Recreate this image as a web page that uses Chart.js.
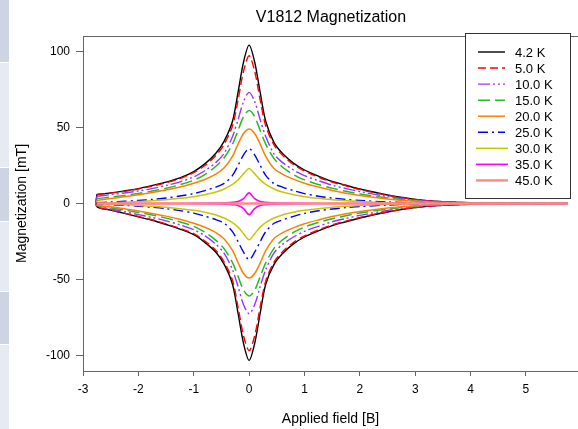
<!DOCTYPE html>
<html>
<head>
<meta charset="utf-8">
<script src="https://cdn.jsdelivr.net/npm/chart.js@4.4.1/dist/chart.umd.min.js"></script>
<style>
  html, body { margin: 0; padding: 0; background: #fff; overflow: hidden; }
  #wrap { position: relative; width: 578px; height: 429px; }
  #chart { position: absolute; left: 0; top: 0; }
  .strip { position: absolute; left: 0; width: 9px; }
</style>
</head>
<body>
<div id="wrap">
  <div class="strip" style="top:0;height:62px;background:#cdd5e3"></div>
  <div class="strip" style="top:63px;height:104px;background:#e6eaf2"></div>
  <div class="strip" style="top:168px;height:53px;background:#cdd5e3"></div>
  <div class="strip" style="top:222px;height:69px;background:#e6eaf2"></div>
  <div class="strip" style="top:292px;height:52px;background:#cdd5e3"></div>
  <div class="strip" style="top:345px;height:84px;background:#e6eaf2"></div>
  <canvas id="chart" width="578" height="429"></canvas>
</div>
<script>
// applied field grid [B], shared by both branches of every loop
const field = [-2.75, -2.5, -2.25, -2, -1.75, -1.5, -1.25, -1, -0.8, -0.6, -0.45, -0.3, -0.2, -0.1, 0,
    0.1, 0.2, 0.3, 0.45, 0.6, 0.8, 1, 1.25, 1.5, 1.75, 2, 2.5, 3, 3.5, 4, 4.5, 5, 5.75];

const temperatures = ['4.2 K', '5.0 K', '10.0 K', '15.0 K', '20.0 K', '25.0 K', '30.0 K', '35.0 K', '45.0 K'];

// magnetization [mT], upper branch
const up42 = [6, 7, 8.3, 9.8, 11.8, 14, 16.8, 21, 26, 33, 41, 54, 73, 93, 104,
    93, 73, 54, 40, 33, 26.5, 22, 18, 14.5, 12, 9.5, 5.6, 2.7, 1.2, 0.5, 0.2, 0.1, 0];
const up50 = [5.8, 6.8, 8, 9.5, 11.4, 13.6, 16.3, 20.3, 25, 31.5, 39, 51, 68, 87, 97,
    87, 68, 51, 38.5, 31.8, 25.6, 21.3, 17.4, 14, 11.6, 9.2, 5.4, 2.6, 1.15, 0.5, 0.2, 0.1, 0];
const up100 = [4.8, 5.8, 6.9, 8.2, 9.8, 11.8, 14.2, 17.5, 21.5, 27, 33, 44, 55, 67, 73,
    67, 55, 44, 32.5, 27, 22, 18.3, 15, 12, 9.8, 7.8, 4.6, 2.2, 1, 0.4, 0.15, 0.05, 0];
const up150 = [3.2, 4.2, 5.3, 6.6, 8.2, 10, 12.3, 15.3, 19, 24.5, 30, 39, 48, 57, 61,
    57, 48, 39, 29.5, 24, 19, 15.5, 12.5, 10, 8, 6.2, 3.6, 1.7, 0.7, 0.3, 0.1, 0, 0];
const up200 = [2, 3.3, 4.4, 5.7, 7.2, 8.8, 10.8, 13.3, 15.8, 19.3, 23.5, 31, 39, 46, 49,
    46, 39, 31, 23, 19.3, 16, 13.3, 10.8, 8.6, 6.8, 5.3, 3, 1.4, 0.6, 0.2, 0.1, 0, 0];
const up250 = [0.5, 1, 1.5, 2, 2.7, 3.6, 4.9, 6.5, 8.5, 10.8, 13.2, 18.5, 25, 32, 36,
    32, 25, 18.5, 13, 10.8, 8.5, 6.5, 4.8, 3.6, 2.7, 2, 1, 0.4, 0.15, 0.05, 0, 0, 0];
const up300 = [0, 0.4, 0.8, 1.3, 1.8, 2.5, 3.4, 4.5, 5.8, 7.5, 9.5, 12.5, 15.5, 19.5, 23,
    19.5, 15.5, 12.5, 9.5, 7.5, 5.8, 4.5, 3.4, 2.5, 1.8, 1.3, 0.5, 0.15, 0, 0, 0, 0, 0];
const up350 = [0, 0, 0, 0, 0, 0, 0, 0.1, 0.2, 0.3, 0.5, 0.8, 1.3, 3.2, 7,
    3.2, 1.3, 0.8, 0.5, 0.3, 0.2, 0.1, 0, 0, 0, 0, 0, 0, 0, 0, 0, 0, 0];
const up450 = [0, 0, 0, 0, 0, 0, 0, 0, 0, 0, 0, 0, 0, 0, 0,
    0, 0, 0, 0, 0, 0, 0, 0, 0, 0, 0, 0, 0, 0, 0, 0, 0, 0];

// magnetization [mT], lower branch
const down42 = [-2, -4.3, -6.5, -8.8, -11, -13.8, -16.8, -20.5, -25.5, -32, -40, -53, -72, -92, -103,
    -92, -72, -53, -40, -33, -26.5, -22, -18, -14.5, -12, -9.5, -5.6, -2.7, -1.2, -0.5, -0.2, -0.1, 0];
const down50 = [-1.9, -4.2, -6.3, -8.5, -10.7, -13.4, -16.3, -19.8, -24.6, -30.8, -38.5, -50.5, -68, -87, -96.7,
    -87, -68, -51, -38.5, -31.8, -25.6, -21.3, -17.4, -14, -11.6, -9.2, -5.4, -2.6, -1.15, -0.5, -0.2, -0.1, 0];
const down100 = [-1.6, -3.6, -5.4, -7.3, -9.2, -11.4, -14, -17.2, -21.2, -26.7, -32.7, -43.5, -54.5, -66.5, -72.4,
    -66.5, -54.5, -43.5, -32.5, -27, -22, -18.3, -15, -12, -9.8, -7.8, -4.6, -2.2, -1, -0.4, -0.15, -0.05, 0];
const down150 = [-1.2, -2.8, -4.3, -5.9, -7.6, -9.6, -12, -15, -18.8, -24.2, -29.8, -38.8, -47.8, -57, -60.7,
    -57, -48, -39, -29.5, -24, -19, -15.5, -12.5, -10, -8, -6.2, -3.6, -1.7, -0.7, -0.3, -0.1, 0, 0];
const down200 = [-0.8, -2.2, -3.5, -4.9, -6.5, -8.3, -10.4, -13, -15.6, -19.1, -23.3, -30.8, -38.8, -46, -49,
    -46, -39, -31, -23, -19.3, -16, -13.3, -10.8, -8.6, -6.8, -5.3, -3, -1.4, -0.6, -0.2, -0.1, 0, 0];
const down250 = [-0.2, -0.7, -1.2, -1.8, -2.5, -3.4, -4.7, -6.3, -8.3, -10.6, -13, -18.5, -25, -32, -37,
    -32, -25, -18.5, -13, -10.8, -8.5, -6.5, -4.8, -3.6, -2.7, -2, -1, -0.4, -0.15, -0.05, 0, 0, 0];
const down300 = [0, -0.4, -0.8, -1.3, -1.8, -2.5, -3.4, -4.5, -5.8, -7.5, -9.5, -12.5, -15.5, -19.8, -23.8,
    -19.8, -15.5, -12.5, -9.5, -7.5, -5.8, -4.5, -3.4, -2.5, -1.8, -1.3, -0.5, -0.15, 0, 0, 0, 0, 0];
const down350 = [0, 0, 0, 0, 0, 0, 0, -0.1, -0.2, -0.3, -0.5, -0.8, -1.3, -3.3, -7.3,
    -3.3, -1.3, -0.8, -0.5, -0.3, -0.2, -0.1, 0, 0, 0, 0, 0, 0, 0, 0, 0, 0, 0];
const down450 = [0, 0, 0, 0, 0, 0, 0, 0, 0, 0, 0, 0, 0, 0, 0,
    0, 0, 0, 0, 0, 0, 0, 0, 0, 0, 0, 0, 0, 0, 0, 0, 0, 0];

const xTicks = [-3, -2, -1, 0, 1, 2, 3, 4, 5];
const yTicks = [-100, -50, 0, 50, 100];

const upper = [up42, up50, up100, up150, up200, up250, up300, up350, up450];
const lower = [down42, down50, down100, down150, down200, down250, down300, down350, down450];

const styles = [
    { color: '#000000', width: 1.4, dash: [] },
    { color: '#ff0000', width: 1.4, dash: [8, 4] },
    { color: '#9933ff', width: 1.4, dash: [12, 3, 2, 3, 2, 3] },
    { color: '#22bb22', width: 1.5, dash: [12, 5] },
    { color: '#ff8000', width: 1.5, dash: [] },
    { color: '#0000ff', width: 1.4, dash: [10, 4, 2, 4] },
    { color: '#c8c800', width: 1.5, dash: [] },
    { color: '#ff00ff', width: 1.6, dash: [] },
    { color: '#ff8888', width: 2.4, dash: [] },
];

const FONT = 'Liberation Sans, Arial, sans-serif';

// one closed path per loop: upper branch left to right, lower branch back, then closed
function loopPoints(up, down) {
    const pts = field.map((b, i) => ({ x: b, y: up[i] }));
    for (let i = field.length - 1; i >= 0; i--) pts.push({ x: field[i], y: down[i] });
    pts.push({ x: field[0], y: up[0] });
    return pts;
}

const datasets = temperatures.map((label, i) => ({
    label,
    data: loopPoints(upper[i], lower[i]),
    showLine: true,
    borderColor: styles[i].color,
    borderWidth: styles[i].width,
    borderDash: styles[i].dash,
    pointRadius: 0,
    tension: 0.3,
    fill: false,
    order: temperatures.length - i,
}));

const framePlugin = {
    id: 'frame',
    afterDraw(chart) {
        const { ctx, chartArea } = chart;
        ctx.save();
        // top border of the plot
        ctx.strokeStyle = '#666';
        ctx.lineWidth = 1;
        ctx.beginPath();
        ctx.moveTo(chartArea.left, chartArea.top + 0.5);
        ctx.lineTo(chartArea.right, chartArea.top + 0.5);
        ctx.stroke();

        // title
        ctx.fillStyle = '#000';
        ctx.font = '16px ' + FONT;
        ctx.textAlign = 'center';
        ctx.textBaseline = 'middle';
        ctx.fillText('V1812 Magnetization', 331, 18);

        // legend box
        const bx = 465, by = 33, bw = 105, bh = 165;
        ctx.fillStyle = '#fff';
        ctx.fillRect(bx, by, bw, bh);
        ctx.strokeStyle = '#333';
        ctx.strokeRect(bx + 0.5, by + 0.5, bw, bh);
        ctx.font = '13px ' + FONT;
        ctx.textAlign = 'left';
        chart.data.datasets.forEach((ds, i) => {
            const y = 52 + i * 16.05;
            ctx.strokeStyle = ds.borderColor;
            ctx.lineWidth = ds.borderWidth;
            ctx.setLineDash(ds.borderDash);
            ctx.beginPath();
            ctx.moveTo(i >= 6 ? 476 : 478, y);
            ctx.lineTo(i >= 6 ? 508 : 505, y);
            ctx.stroke();
            ctx.setLineDash([]);
            ctx.fillStyle = '#000';
            ctx.fillText(ds.label, 515, y + 1);
        });
        ctx.restore();
    },
};

new Chart(document.getElementById('chart'), {
    type: 'scatter',
    data: { datasets },
    options: {
        responsive: false,
        animation: false,
        layout: { padding: { top: 36, left: 0, right: 0, bottom: 0 } },
        plugins: {
            legend: { display: false },
            tooltip: { enabled: false },
            title: { display: false },
        },
        scales: {
            x: {
                type: 'linear',
                min: -3,
                max: 5.94,
                afterBuildTicks: (scale) => { scale.ticks = xTicks.map((v) => ({ value: v })); },
                afterFit: (scale) => { scale.height = 58; },
                grid: { drawOnChartArea: false, drawTicks: true, tickLength: 5, color: '#666' },
                border: { color: '#666', width: 1 },
                ticks: { color: '#000', font: { family: FONT, size: 12 }, padding: 6, maxRotation: 0 },
                title: {
                    display: true,
                    text: 'Applied field [B]',
                    color: '#000',
                    font: { family: FONT, size: 14 },
                    padding: { top: 0, bottom: 1 },
                },
            },
            y: {
                type: 'linear',
                min: -110,
                max: 110,
                afterBuildTicks: (scale) => { scale.ticks = yTicks.map((v) => ({ value: v })); },
                afterFit: (scale) => { scale.width = 83; },
                grid: { drawOnChartArea: false, drawTicks: true, tickLength: 7, color: '#666' },
                border: { color: '#666', width: 1 },
                ticks: { color: '#000', font: { family: FONT, size: 12 }, padding: 6 },
                title: {
                    display: true,
                    text: 'Magnetization [mT]',
                    color: '#000',
                    font: { family: FONT, size: 14 },
                    padding: { top: 14, bottom: 0 },
                },
            },
        },
    },
    plugins: [framePlugin],
});
</script>
</body>
</html>
